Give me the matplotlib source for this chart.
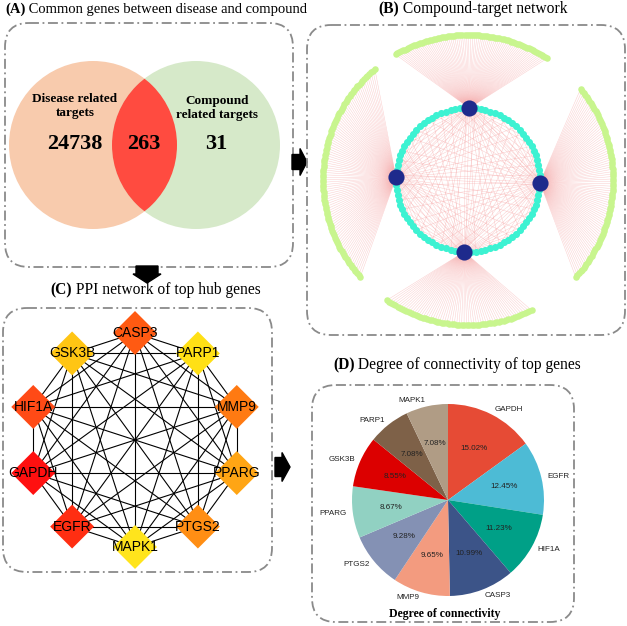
import itertools
import numpy as np
import matplotlib.pyplot as plt
from matplotlib.patches import Circle, FancyBboxPatch, FancyArrow

SERIF = 'Liberation Serif'
SANS = 'Liberation Sans'

# (A) Venn counts
disease_only = 24738
shared_genes = 263
compound_only = 31

# (B) compound-target network: targets per compound (top, left, right, bottom)
compound_target_counts = [78, 95, 85, 62]
shared_target_counts = [38, 40, 36, 42]
n_common_targets = 90

# (C) PPI hub genes, clockwise from top
ppi_genes = ['CASP3', 'PARP1', 'MMP9', 'PPARG', 'PTGS2',
             'MAPK1', 'EGFR', 'GAPDH', 'HIF1A', 'GSK3B']
ppi_colors = ['#FF5A12', '#FFE015', '#FF7A12', '#FFA514', '#FF8E14',
              '#FFE41C', '#FF2E12', '#FF1010', '#FF4A16', '#FFC514']

# (D) degree of connectivity (%)
pie_genes = ['GAPDH', 'EGFR', 'HIF1A', 'CASP3', 'MMP9',
             'PTGS2', 'PPARG', 'GSK3B', 'PARP1', 'MAPK1']
pie_values = [15.02, 12.45, 11.23, 10.99, 9.65, 9.28, 8.67, 8.55, 7.08, 7.08]
pie_colors = ['#E64B35', '#4DBBD5', '#00A087', '#3C5488', '#F39B7F',
              '#8491B4', '#91D1C2', '#DC0000', '#7E6148', '#B09C85']

W, H = 627, 626
fig = plt.figure(figsize=(W / 100, H / 100), dpi=100)
ax = fig.add_axes([0, 0, 1, 1])
ax.set_xlim(0, W)
ax.set_ylim(H, 0)
ax.axis('off')


def dash_box(x0, y0, x1, y1):
    ax.add_patch(FancyBboxPatch((x0, y0), x1 - x0, y1 - y0,
                                boxstyle='round,pad=0,rounding_size=24',
                                fc='none', ec='#8a8a8a', lw=1.3,
                                ls=(0, (5.5, 2, 1, 2))))


def panel_title(x, y, tag, text, size=11.2):
    t = ax.text(x, y, tag, fontfamily=SERIF, fontweight='bold', fontsize=size,
                va='center', ha='left')
    ax.annotate(' ' + text, xy=(1, 0), xycoords=t, va='bottom', ha='left',
                fontfamily=SERIF, fontsize=size)


def polar(cx, cy, r, deg):
    a = np.deg2rad(deg)
    return cx + r * np.cos(a), cy - r * np.sin(a)


# ---------------- (A) Venn ----------------
panel_title(5, 9, '(A)', 'Common genes between disease and compound', size=10.5)
dash_box(5, 23, 293, 267)
left = Circle((93, 145), 84, fc='#F8CBAD', ec='none')
right = Circle((196, 145), 84, fc='#D6E9C9', ec='none')
ax.add_patch(left)
ax.add_patch(right)
lens = Circle((196, 145), 84, fc='#FF4B40', ec='none')
ax.add_patch(lens)
lens.set_clip_path(left)

ax.text(75, 106, 'Disease related\ntargets', fontfamily=SERIF, fontweight='bold',
        fontsize=9.5, ha='center', va='center', linespacing=1.2)
ax.text(217, 108, 'Compound\nrelated targets', fontfamily=SERIF, fontweight='bold',
        fontsize=9.5, ha='center', va='center', linespacing=1.2)
for x, n in [(75, disease_only), (144, shared_genes), (216, compound_only)]:
    ax.text(x, 144, str(n), fontfamily=SERIF, fontweight='bold', fontsize=16,
            ha='center', va='center')

# arrows
ax.add_patch(FancyArrow(292, 162, 15, 0, width=15, head_width=27, head_length=7,
                        length_includes_head=True, color='black'))
ax.add_patch(FancyArrow(147, 266, 0, 17, width=22, head_width=28, head_length=9,
                        length_includes_head=True, color='black'))
ax.add_patch(FancyArrow(275, 467, 15, 0, width=19, head_width=29, head_length=8,
                        length_includes_head=True, color='black'))

# ---------------- (B) compound-target network ----------------
panel_title(378, 9, '(B)', 'Compound-target network')
dash_box(307, 25, 625, 335)
cx, cy, r_in, r_out = 468, 180, 72, 145
hub_angles = [89, 178, 358, 267]
arc_spans = [(57, 120), (130, 222), (-42, 39), (236, 296)]
edge_kw = dict(color='#F7A3A3', lw=0.35, alpha=0.55, zorder=1)

ring_ang = np.linspace(0, 360, n_common_targets, endpoint=False)
ring_x, ring_y = polar(cx, cy, r_in, ring_ang)

for k, (ha_, (a0, a1), n_t, n_s) in enumerate(
        zip(hub_angles, arc_spans, compound_target_counts, shared_target_counts)):
    hx, hy = polar(cx, cy, r_in, ha_)
    tx, ty = polar(cx, cy, r_out, np.linspace(a0, a1, n_t))
    for x, y in zip(tx, ty):
        ax.plot([hx, x], [hy, y], **edge_kw)
    idx = np.linspace(k, n_common_targets - 1, n_s).astype(int)
    for i in idx:
        ax.plot([hx, ring_x[i]], [hy, ring_y[i]], **edge_kw)
    ax.scatter(tx, ty, s=22, color='#C8F58E', lw=0, zorder=2)

ax.scatter(ring_x, ring_y, s=26, color='#3DF2D2', lw=0, zorder=3)
hx, hy = polar(cx, cy, r_in, np.array(hub_angles))
ax.scatter(hx, hy, s=135, color='#1E2A8C', lw=0, zorder=4)

# ---------------- (C) PPI network ----------------
panel_title(50, 290, '(C)', 'PPI network of top hub genes')
dash_box(3, 308, 272, 572)
pcx, pcy, pr = 135, 440, 107
p_ang = 90 - 36 * np.arange(len(ppi_genes))
px, py = polar(pcx, pcy, pr, p_ang)
for i, j in itertools.combinations(range(len(ppi_genes)), 2):
    ax.plot([px[i], px[j]], [py[i], py[j]], color='black', lw=0.8, zorder=1)
ax.scatter(px, py, marker='D', s=500, c=ppi_colors, lw=0, zorder=3)
for x, y, g in zip(px, py, ppi_genes):
    ax.text(x, y, g, fontfamily=SANS, fontsize=10, ha='center', va='center', zorder=4)

# ---------------- (D) pie ----------------
panel_title(333, 365, '(D)', 'Degree of connectivity of top genes')
dash_box(312, 385, 574, 622)
ax.text(445, 614, 'Degree of connectivity', fontfamily=SERIF, fontweight='bold',
        fontsize=8.5, ha='center', va='center')

pcx2, pcy2, r_pie = 448, 500, 96
pax = fig.add_axes([(pcx2 - r_pie) / W, (H - pcy2 - r_pie) / H, 2 * r_pie / W, 2 * r_pie / H])
pax.pie(pie_values, labels=pie_genes, colors=pie_colors, startangle=90,
        counterclock=False, autopct='%.2f%%', pctdistance=0.6, labeldistance=1.06,
        wedgeprops=dict(lw=0), textprops=dict(fontfamily=SANS, fontsize=5.8, color='#222222'))
pax.set_xlim(-1, 1)
pax.set_ylim(-1, 1)
pax.set_aspect('equal')

fig.savefig('out.png', dpi=100)
